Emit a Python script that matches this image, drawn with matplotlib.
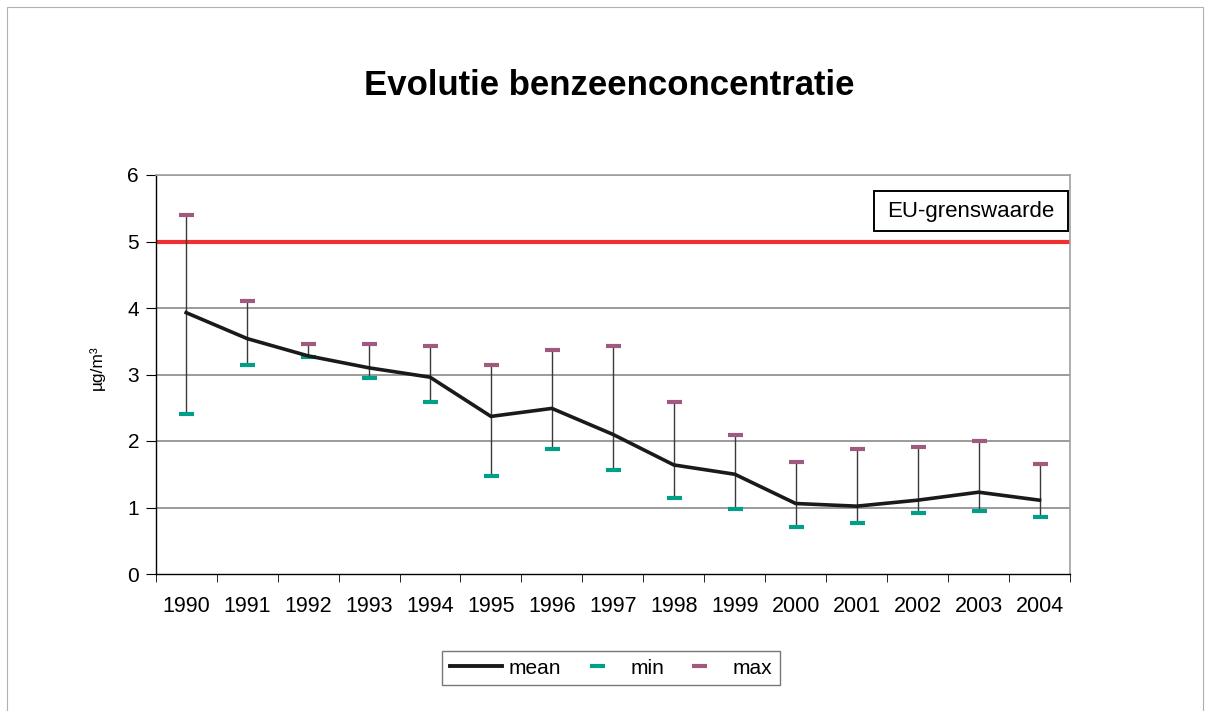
import matplotlib
matplotlib.use("Agg")
import matplotlib.pyplot as plt
from matplotlib.lines import Line2D
from matplotlib.patches import Rectangle
import numpy as np

years = ["1990", "1991", "1992", "1993", "1994", "1995", "1996", "1997",
         "1998", "1999", "2000", "2001", "2002", "2003", "2004"]
mean_vals = [3.93, 3.54, 3.28, 3.10, 2.96, 2.37, 2.49, 2.10, 1.64, 1.50, 1.06, 1.02, 1.11, 1.23, 1.11]
min_vals = [2.41, 3.14, 3.26, 2.94, 2.59, 1.48, 1.88, 1.56, 1.15, 0.98, 0.71, 0.77, 0.92, 0.95, 0.86]
max_vals = [5.40, 4.11, 3.46, 3.46, 3.43, 3.14, 3.37, 3.43, 2.59, 2.09, 1.68, 1.88, 1.91, 2.00, 1.65]
eu_limit = 5
yticks = [0, 1, 2, 3, 4, 5, 6]

plt.rcParams['font.family'] = ['Liberation Sans', 'DejaVu Sans']

W, H = 1205, 711
fig = plt.figure(figsize=(W / 100, H / 100), dpi=100)
fig.patches.append(Rectangle((7 / W, -0.02), (1203 - 7) / W, 1 - 7 / H + 0.02,
                             transform=fig.transFigure, fill=False,
                             edgecolor='#b0b0b0', lw=0.8))

ax = fig.add_axes([155.7 / W, 1 - 574 / H, (1070 - 155.7) / W, (574 - 175) / H])
x = np.arange(len(years))
ax.set_xlim(-0.5, len(years) - 0.5)
ax.set_ylim(0, 6)

for yv in yticks[1:]:
    ax.axhline(yv, color='#808080', lw=1.1, zorder=1)

ax.axhline(eu_limit, color='#f03030', lw=3.0, zorder=2)

MIN_C = '#00a088'
MAX_C = '#a05a80'
ax.vlines(x, min_vals, max_vals, color='#3a3a3a', lw=1.0, zorder=3)
ax.plot(x, min_vals, linestyle='none', marker='_', markersize=10.8, mew=3.0,
        color=MIN_C, zorder=4)
ax.plot(x, max_vals, linestyle='none', marker='_', markersize=10.8, mew=3.0,
        color=MAX_C, zorder=4)
ax.plot(x, mean_vals, color='#1a1a1a', lw=2.6, zorder=5, solid_joinstyle='miter')

ax.set_yticks(yticks)
ax.set_yticklabels([str(v) for v in yticks], fontsize=15)
ax.set_xticks(x)
ax.set_xticklabels(years, fontsize=15.5)
ax.set_xticks(np.arange(-0.5, len(years)), minor=True)
ax.tick_params(axis='x', which='major', length=0, pad=16)
ax.tick_params(axis='x', which='minor', length=6, direction='out', color='black')
ax.tick_params(axis='y', length=7, direction='out', pad=5, color='black')

for s in ['top', 'right']:
    ax.spines[s].set_color('#a0a0a0')
    ax.spines[s].set_linewidth(1.2)
for s in ['left', 'bottom']:
    ax.spines[s].set_color('black')
    ax.spines[s].set_linewidth(1.0)

ax.set_ylabel('µg/m³', fontsize=12.5)
ax.yaxis.set_label_coords((105 - 155.7) / 914.3, (574 - 368) / 399)

# EU label box
ax.add_patch(Rectangle(((874 - 155.7) / 914.3, (574 - 231) / 399),
                       (1068 - 874) / 914.3, 40 / 399, transform=ax.transAxes,
                       facecolor='white', edgecolor='black', lw=1.4, zorder=6,
                       clip_on=False))
ax.text((971 - 155.7) / 914.3, (574 - 216.7) / 399, 'EU-grenswaarde',
        transform=ax.transAxes, fontsize=16, ha='center', va='baseline', zorder=7)

fig.text(609 / W, 1 - 95 / H, 'Evolutie benzeenconcentratie', fontsize=25,
         fontweight='bold', ha='center', va='baseline')

handles = [Line2D([0], [0], color='#1a1a1a', lw=2.8),
           Line2D([0], [0], linestyle='none', marker='_', markersize=10.8, mew=3.0, color=MIN_C),
           Line2D([0], [0], linestyle='none', marker='_', markersize=10.8, mew=3.0, color=MAX_C)]
leg = fig.legend(handles, ['mean', 'min', 'max'], loc='center', ncol=3,
                 bbox_to_anchor=(611 / W, 1 - 668 / H), fontsize=15, frameon=True,
                 fancybox=False, edgecolor='#555555', handlelength=2.5, columnspacing=0.45,
                 handletextpad=0.35, borderpad=0.35)
leg.get_frame().set_linewidth(1.0)

fig.savefig('out.png', dpi=100)
